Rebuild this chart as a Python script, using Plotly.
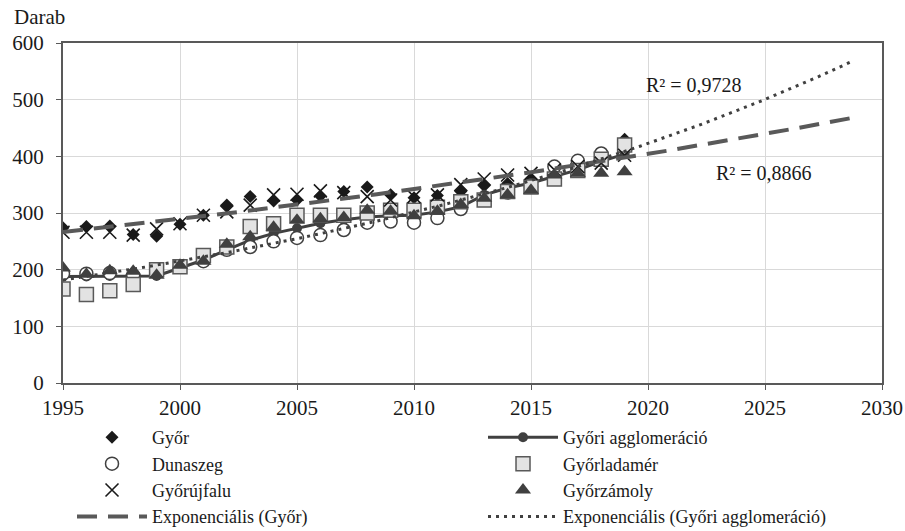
import numpy as np
import plotly.graph_objects as go

years = list(range(1995, 2020))
gyor = [274, 276, 277, 262, 259, 280, 296, 314, 329, 321, 323, 330, 338, 346, 332, 327, 331, 338, 348, 352, 360, 371, 386, 401, 430]
agglo = [188, 188, 189, 189, 189, 203, 217, 235, 252, 264, 273, 282, 288, 293, 295, 296, 302, 311, 332, 344, 353, 364, 376, 391, 404]
dunaszeg = [193, 193, 194, 190, 196, 205, 215, 235, 240, 250, 256, 261, 270, 283, 285, 283, 291, 307, 325, 336, 346, 382, 392, 405, 415]
ladamer = [166, 156, 163, 174, 200, 205, 225, 240, 276, 281, 296, 296, 296, 300, 305, 305, 310, 320, 323, 338, 346, 360, 375, 395, 420]
ujfalu = [266, 266, 266, 261, 272, 281, 296, 302, 314, 332, 333, 339, 336, 329, 323, 329, 332, 350, 360, 367, 370, 376, 382, 388, 402]
zamoly = [203, 192, 198, 197, 190, 208, 215, 245, 258, 275, 287, 290, 292, 305, 303, 295, 303, 315, 326, 332, 340, 367, 370, 370, 373]

trend_end = 2028.8
r2_agglo = "R² = 0,9728"
r2_gyor = "R² = 0,8866"

FONT = "Liberation Serif"

def expfit(x, y, x_out):
    b, ln_a = np.polyfit(np.array(x, float), np.log(np.array(y, float)), 1)
    return np.exp(ln_a + b * x_out)

xt = np.linspace(1995, trend_end, 200)

fig = go.Figure()
fig.add_trace(go.Scatter(x=years, y=gyor, mode="markers", name="Győr",
                         marker=dict(symbol="diamond", size=10, color="#1a1a1a")))
fig.add_trace(go.Scatter(x=years, y=agglo, mode="lines+markers", name="Győri agglomeráció",
                         line=dict(color="#404040", width=3),
                         marker=dict(symbol="circle", size=10, color="#404040")))
fig.add_trace(go.Scatter(x=years, y=dunaszeg, mode="markers", name="Dunaszeg",
                         marker=dict(symbol="circle", size=13, color="white",
                                     line=dict(color="#404040", width=1.5))))
fig.add_trace(go.Scatter(x=years, y=ladamer, mode="markers", name="Győrladamér",
                         marker=dict(symbol="square", size=14, color="#e3e3e3",
                                     line=dict(color="#595959", width=1.5))))
fig.add_trace(go.Scatter(x=years, y=ujfalu, mode="markers", name="Győrújfalu",
                         marker=dict(symbol="x-thin-open", size=13, color="#1a1a1a",
                                     line=dict(color="#1a1a1a", width=1.6))))
fig.add_trace(go.Scatter(x=years, y=zamoly, mode="markers", name="Győrzámoly",
                         marker=dict(symbol="triangle-up", size=14, color="#404040")))
fig.add_trace(go.Scatter(x=xt, y=expfit(years, gyor, xt), mode="lines",
                         name="Exponenciális (Győr)",
                         line=dict(color="#595959", width=4, dash="20px,11px")))
fig.add_trace(go.Scatter(x=xt, y=expfit(years, agglo, xt), mode="lines",
                         name="Exponenciális (Győri agglomeráció)",
                         line=dict(color="#404040", width=3, dash="3px,5px")))

fig.add_annotation(x=2021.95, y=526, text=r2_agglo, showarrow=False,
                   font=dict(family=FONT, size=20, color="#1a1a1a"))
fig.add_annotation(x=2024.95, y=371, text=r2_gyor, showarrow=False,
                   font=dict(family=FONT, size=20, color="#1a1a1a"))
fig.add_annotation(x=0, xref="paper", xanchor="left", y=1, yref="paper",
                   yanchor="bottom", yshift=12, xshift=-51, text="Darab", showarrow=False,
                   font=dict(family=FONT, size=21, color="#1a1a1a"))

fig.update_layout(
    width=905, height=531,
    margin=dict(l=63, r=23, t=43, b=148, autoexpand=False),
    paper_bgcolor="white", plot_bgcolor="white",
    font=dict(family=FONT, size=20, color="#1a1a1a"),
    showlegend=True,
    legend=dict(orientation="h", x=0.011, xanchor="left", y=-0.106, yanchor="top",
                entrywidthmode="pixels", entrywidth=326,
                font=dict(family=FONT, size=18, color="#1a1a1a"),
                tracegroupgap=0, itemwidth=70, bgcolor="rgba(0,0,0,0)"),
)
fig.update_xaxes(range=[1995, 2030], dtick=5, tick0=1995, showgrid=True, gridcolor="#d9d9d9",
                 showline=True, linecolor="#595959", linewidth=2, mirror=True,
                 ticks="outside", ticklen=5, tickcolor="#595959", zeroline=False,
                 tickfont=dict(family=FONT, size=21))
fig.update_yaxes(range=[0, 600], dtick=100, showgrid=True, gridcolor="#d9d9d9",
                 showline=True, linecolor="#595959", linewidth=2, mirror=True,
                 ticks="outside", ticklen=5, tickcolor="#595959", zeroline=False,
                 ticklabelstandoff=8, tickfont=dict(family=FONT, size=21))

fig.write_html("out.html", config={"displayModeBar": False},
               post_script="document.body.style.margin='0px';")
